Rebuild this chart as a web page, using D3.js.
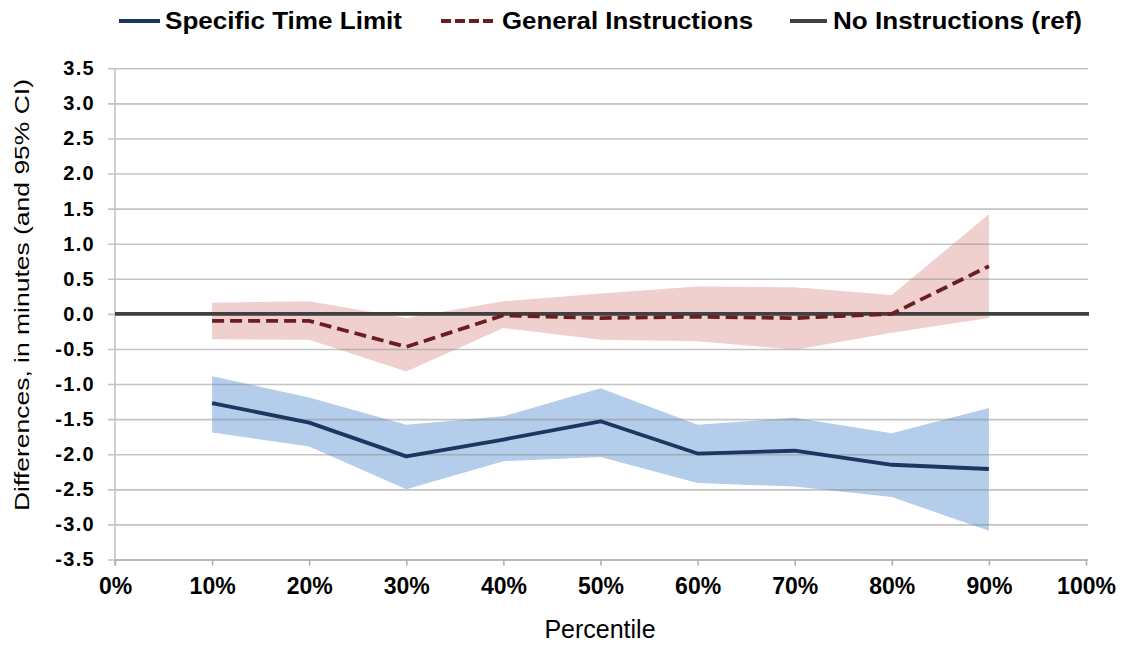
<!DOCTYPE html>
<html lang="en">
<head>
<meta charset="utf-8">
<script src="https://cdn.jsdelivr.net/npm/d3@7"></script>
<style>
  body { margin: 0; background: #fff; }
  text { font-family: "Liberation Sans", Arial, sans-serif; fill: #000; }
</style>
</head>
<body>
<svg id="chart" width="1124" height="646"></svg>
<script>
// percentiles (x) and estimates
const percentiles = [10, 20, 30, 40, 50, 60, 70, 80, 90];

const specific   = [-1.27, -1.55, -2.03, -1.79, -1.53, -1.99, -1.95, -2.15, -2.21];
const specificLo = [-1.69, -1.89, -2.50, -2.10, -2.04, -2.41, -2.46, -2.61, -3.09];
const specificHi = [-0.89, -1.19, -1.58, -1.46, -1.06, -1.58, -1.48, -1.70, -1.34];

const general    = [-0.10, -0.10, -0.47, -0.02, -0.06, -0.04, -0.06, 0.00, 0.68];
const generalLo  = [-0.36, -0.37, -0.82, -0.20, -0.37, -0.39, -0.51, -0.27, -0.06];
const generalHi  = [0.16, 0.18, -0.06, 0.18, 0.29, 0.39, 0.38, 0.27, 1.42];

const yTicks = [-3.5, -3.0, -2.5, -2.0, -1.5, -1.0, -0.5, 0.0, 0.5, 1.0, 1.5, 2.0, 2.5, 3.0, 3.5];
const xTicks = [0, 10, 20, 30, 40, 50, 60, 70, 80, 90, 100];

const legendNames = ["Specific Time Limit", "General Instructions", "No Instructions (ref)"];

let svg = d3.select("#chart");

let x = d3.scaleLinear().domain([0, 100]).range([115, 1086]);
let y = d3.scaleLinear().domain([-3.5, 3.5]).range([559.5, 68.3]);

let rows = percentiles.map((p, i) => ({
  p: p,
  s: specific[i], sLo: specificLo[i], sHi: specificHi[i],
  g: general[i], gLo: generalLo[i], gHi: generalHi[i]
}));

// confidence bands
let bandG = d3.area().x(d => x(d.p)).y0(d => y(d.gLo)).y1(d => y(d.gHi));
let bandS = d3.area().x(d => x(d.p)).y0(d => y(d.sLo)).y1(d => y(d.sHi));

svg.append("path").datum(rows).attr("d", bandG).attr("fill", "#efd0cf");
svg.append("path").datum(rows).attr("d", bandS).attr("fill", "#b3cdeb");

// horizontal gridlines + y labels
let yAxis = d3.axisLeft(y)
  .tickValues(yTicks)
  .tickSize(980)
  .tickPadding(13)
  .tickFormat(d => d.toFixed(1));

let gy = svg.append("g").attr("transform", "translate(1088,0)").call(yAxis);
gy.select(".domain").remove();
gy.selectAll("line").attr("stroke", "#8a8a8a").attr("stroke-opacity", 0.5).attr("stroke-width", 1.6);
gy.selectAll("text")
  .attr("font-size", 20)
  .attr("font-weight", "bold")
  .attr("letter-spacing", "1.3px")
  .attr("font-family", "Liberation Sans, Arial, sans-serif");

// y axis line
svg.append("line")
  .attr("x1", x(0)).attr("x2", x(0))
  .attr("y1", y(3.5)).attr("y2", y(-3.5) + 6)
  .attr("stroke", "#c4c4c4").attr("stroke-width", 1.6);

// x axis
let xAxis = d3.axisBottom(x)
  .tickValues(xTicks)
  .tickSize(6)
  .tickSizeOuter(0)
  .tickPadding(12)
  .tickFormat(d => d + "%");

let gx = svg.append("g").attr("transform", "translate(0," + y(-3.5) + ")").call(xAxis);
gx.select(".domain").attr("stroke", "#b0b0b0").attr("stroke-width", 1.6);
gx.selectAll("line").attr("stroke", "#b0b0b0").attr("stroke-width", 1.6);
gx.selectAll("text")
  .attr("font-size", 23)
  .attr("font-weight", "bold")
  .attr("font-family", "Liberation Sans, Arial, sans-serif");

// reference line at zero
svg.append("line")
  .attr("x1", x(0)).attr("x2", 1089)
  .attr("y1", y(0)).attr("y2", y(0))
  .attr("stroke", "#404040").attr("stroke-width", 3.8);

// lines
let lineG = d3.line().x(d => x(d.p)).y(d => y(d.g));
let lineS = d3.line().x(d => x(d.p)).y(d => y(d.s));

svg.append("path").datum(rows).attr("d", lineG)
  .attr("fill", "none").attr("stroke", "#6b1e22").attr("stroke-width", 3.8)
  .attr("stroke-dasharray", "12,6");

svg.append("path").datum(rows).attr("d", lineS)
  .attr("fill", "none").attr("stroke", "#1b365f").attr("stroke-width", 3.8)
  .attr("stroke-linejoin", "round");

// axis titles
svg.append("text")
  .attr("transform", "translate(29,295) rotate(-90)")
  .attr("text-anchor", "middle")
  .attr("font-size", 21)
  .attr("textLength", 432)
  .attr("lengthAdjust", "spacingAndGlyphs")
  .text("Differences, in minutes (and 95% CI)");

svg.append("text")
  .attr("x", 600).attr("y", 638)
  .attr("text-anchor", "middle")
  .attr("font-size", 25)
  .text("Percentile");

// legend
let legendItems = [
  { name: legendNames[0], x1: 119, x2: 160, tx: 165, tl: 237, color: "#1b365f", dash: null },
  { name: legendNames[1], x1: 441, x2: 496, tx: 502, tl: 251, color: "#6b1e22", dash: "10,4" },
  { name: legendNames[2], x1: 790, x2: 827, tx: 833, tl: 249, color: "#404040", dash: null }
];

let leg = svg.append("g");
legendItems.forEach(d => {
  leg.append("line")
    .attr("x1", d.x1).attr("x2", d.x2).attr("y1", 21).attr("y2", 21)
    .attr("stroke", d.color).attr("stroke-width", 4)
    .attr("stroke-dasharray", d.dash);
  leg.append("text")
    .attr("x", d.tx).attr("y", 29)
    .attr("font-size", 24)
    .attr("font-weight", "bold")
    .attr("textLength", d.tl)
    .attr("lengthAdjust", "spacingAndGlyphs")
    .text(d.name);
});
</script>
</body>
</html>
